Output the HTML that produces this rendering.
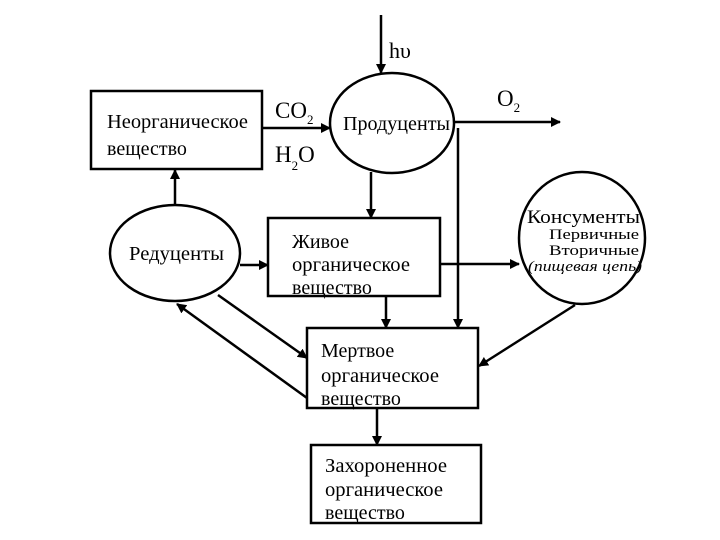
<!DOCTYPE html>
<html><head><meta charset="utf-8"><style>
html,body{margin:0;padding:0;background:#fff;}
svg{display:block;font-family:"Liberation Serif",serif;}
</style></head><body>
<svg width="720" height="540" viewBox="0 0 720 540" xmlns="http://www.w3.org/2000/svg">
<defs><marker id="a" markerWidth="10" markerHeight="10" refX="9" refY="5" orient="auto" markerUnits="userSpaceOnUse"><path d="M0,0 L10,5 L0,10 Z" fill="#000"/></marker></defs>
<g stroke="#000" stroke-width="2.5" fill="none">
<rect x="91" y="91" width="171" height="78"/>
<ellipse cx="392" cy="123" rx="62" ry="50"/>
<rect x="268" y="218" width="172" height="78"/>
<ellipse cx="175" cy="253" rx="65" ry="48"/>
<ellipse cx="582" cy="238" rx="63" ry="66"/>
<rect x="307" y="328" width="171" height="80"/>
<rect x="311" y="445" width="170" height="78"/>
<line x1="381" y1="15" x2="381" y2="73" marker-end="url(#a)"/>
<line x1="262" y1="128" x2="330" y2="128" marker-end="url(#a)"/>
<line x1="454" y1="122" x2="560" y2="122" marker-end="url(#a)"/>
<line x1="458" y1="128" x2="458" y2="328" marker-end="url(#a)"/>
<line x1="371" y1="172" x2="371" y2="218" marker-end="url(#a)"/>
<line x1="175" y1="205" x2="175" y2="170" marker-end="url(#a)"/>
<line x1="240" y1="265" x2="268" y2="265" marker-end="url(#a)"/>
<line x1="440" y1="264" x2="519" y2="264" marker-end="url(#a)"/>
<line x1="575" y1="305" x2="479" y2="366" marker-end="url(#a)"/>
<line x1="386" y1="296" x2="386" y2="328" marker-end="url(#a)"/>
<line x1="218" y1="295" x2="307" y2="358" marker-end="url(#a)"/>
<line x1="307" y1="398" x2="177" y2="304" marker-end="url(#a)"/>
<line x1="377" y1="408" x2="377" y2="445" marker-end="url(#a)"/>
</g>
<g font-size="20" fill="#000">
<text x="389" y="58" font-size="22">hυ</text>
<text x="275" y="118" font-size="23">CO<tspan font-size="13" dy="6">2</tspan></text>
<text x="275" y="162" font-size="23">H<tspan font-size="13" dy="8">2</tspan><tspan dy="-8">O</tspan></text>
<text x="497" y="106" font-size="23">O<tspan font-size="13" dy="6">2</tspan></text>
<text x="107" y="128" textLength="141" lengthAdjust="spacingAndGlyphs">Неорганическое</text>
<text x="107" y="155">вещество</text>
<text x="343" y="130" textLength="107" lengthAdjust="spacingAndGlyphs">Продуценты</text>
<text x="129" y="260" textLength="95" lengthAdjust="spacingAndGlyphs">Редуценты</text>
<text x="292" y="248">Живое</text>
<text x="292" y="271" textLength="118" lengthAdjust="spacingAndGlyphs">органическое</text>
<text x="292" y="294">вещество</text>
<text x="527" y="223" font-size="19" textLength="113" lengthAdjust="spacingAndGlyphs">Консументы</text>
<text x="549" y="239" font-size="15" textLength="90" lengthAdjust="spacingAndGlyphs">Первичные</text>
<text x="549" y="255" font-size="15" textLength="90" lengthAdjust="spacingAndGlyphs">Вторичные</text>
<text x="528" y="271" font-size="15" font-style="italic" textLength="114" lengthAdjust="spacingAndGlyphs">(пищевая цепь)</text>
<text x="321" y="357">Мертвое</text>
<text x="321" y="382" textLength="118" lengthAdjust="spacingAndGlyphs">органическое</text>
<text x="321" y="405">вещество</text>
<text x="325" y="472" textLength="122" lengthAdjust="spacingAndGlyphs">Захороненное</text>
<text x="325" y="496" textLength="118" lengthAdjust="spacingAndGlyphs">органическое</text>
<text x="325" y="519">вещество</text>
</g>
</svg>
</body></html>
